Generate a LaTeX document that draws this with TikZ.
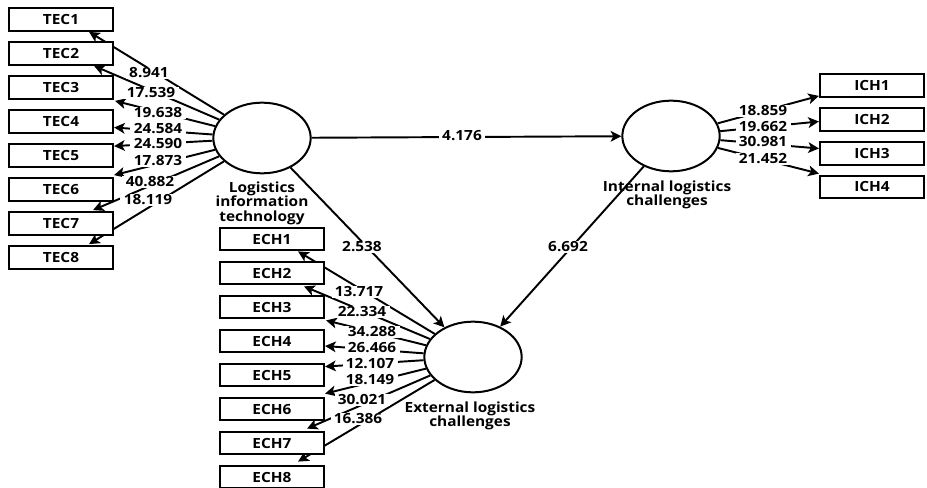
\documentclass[tikz,border=0pt]{standalone}
\usepackage{fontspec}
\setmainfont[FakeStretch=1.1]{Open Sans}
\usetikzlibrary{shapes.geometric,arrows.meta,calc}
\pgfdeclarelayer{bg}
\pgfsetlayers{bg,main}
\begin{document}
\begin{tikzpicture}[x=0.75pt,y=-0.75pt,
  font=\fontsize{10.5}{10.9}\selectfont\bfseries,
  ind/.style={draw, fill=white, line width=1.6pt, minimum width=78pt, minimum height=17pt, inner sep=0pt},
  lat/.style={draw, fill=white, ellipse, line width=1.5pt, minimum width=73pt, minimum height=53pt, inner sep=0pt},
  conn/.style={line width=1.45pt, -{Stealth[length=8pt,width=8pt,inset=2pt]}},
  lab/.style={fill=white, inner xsep=2.5pt, inner ysep=0.5pt}]
\useasboundingbox (0,0) rectangle (927,488);
% indicator boxes
\foreach \i/\y in {1/19.5,2/53.5,3/87.5,4/121.5,5/155.5,6/189.5,7/223.5,8/257.5}
  \node[ind] (tec\i) at (61,\y) {TEC\i};
\foreach \i/\y in {1/239,2/273,3/307,4/341,5/375,6/409,7/443,8/477}
  \node[ind] (ech\i) at (272,\y) {ECH\i};
\foreach \i/\y in {1/85.5,2/119.5,3/153.5,4/187}
  \node[ind] (ich\i) at (872,\y) {ICH\i};
% latent variables
\node[lat] (lit) at (262,138) {};
\node[lat] (int) at (671,136) {};
\node[lat] (ext) at (473,357) {};
\node[align=center] (litl) at (262,203) {Logistics\\information\\technology};
\node[align=center] (intl) at (667,195) {Internal logistics\\challenges};
\node[align=center] (extl) at (470,416) {External logistics\\challenges};
% connectors
\begin{pgfonlayer}{bg}
\draw[conn] (lit) -- ($(tec1.south east)+(-25,0)$);
\draw[conn] (lit) -- ($(tec2.south east)+(-20,0)$);
\draw[conn] (lit) -- ($(tec3.south east)+(1,1)$);
\draw[conn] (lit) -- ($(tec4.east)+(0,6)$);
\draw[conn] (lit) -- ($(tec5.north east)+(0,3)$);
\draw[conn] (lit) -- ($(tec6.north east)+(0,-2)$);
\draw[conn] (lit) -- ($(tec7.north east)+(-21,-1)$);
\draw[conn] (lit) -- ($(tec8.north east)+(-25,-1)$);
\draw[conn] (ext) -- ($(ech1.south east)+(-27,0)$);
\draw[conn] (ext) -- ($(ech2.south east)+(-21,1)$);
\draw[conn] (ext) -- ($(ech3.south east)+(1,1)$);
\draw[conn] (ext) -- ($(ech4.east)+(0,5)$);
\draw[conn] (ext) -- ($(ech5.north east)+(0,4)$);
\draw[conn] (ext) -- ($(ech6.north east)+(0,-3)$);
\draw[conn] (ext) -- ($(ech7.north east)+(-18,-2)$);
\draw[conn] (ext) -- ($(ech8.north east)+(-27,-3)$);
\draw[conn] (int) -- ($(ich1.south west)+(0,-2)$);
\draw[conn] (int) -- ($(ich2.west)+(0,2)$);
\draw[conn] (int) -- ($(ich3.west)+(0,-5)$);
\draw[conn] (int) -- ($(ich4.north west)+(0,-1)$);
\draw[conn] (lit) -- (int);
\draw[conn] (lit) -- (ext);
\draw[conn] (int) -- (ext);
\end{pgfonlayer}
% labels
\node[lab] (t1) at (149,73) {8.941};
\node[lab] (t2) at (151,93) {17.539};
\node[lab] (t3) at (158,113) {19.638};
\node[lab] (t4) at (158,129) {24.584};
\node[lab] (t5) at (158,144) {24.590};
\node[lab] (t6) at (158,161) {17.873};
\node[lab] (t7) at (150,182) {40.882};
\node[lab] (t8) at (148,200) {18.119};
\node[lab] (e1) at (359,292) {13.717};
\node[lab] (e2) at (362,312) {22.334};
\node[lab] (e3) at (372,332) {34.288};
\node[lab] (e4) at (372,348) {26.466};
\node[lab] (e5) at (370,364) {12.107};
\node[lab] (e6) at (370,380) {18.149};
\node[lab] (e7) at (362,400) {30.021};
\node[lab] (e8) at (358,419) {16.386};
\node[lab] (i1) at (763,111) {18.859};
\node[lab] (i2) at (763,127) {19.662};
\node[lab] (i3) at (763,142) {30.981};
\node[lab] (i4) at (763,159) {21.452};
\node[lab] (p1) at (462,136) {4.176};
\node[lab] (p2) at (362,247) {2.538};
\node[lab] (p3) at (568,247) {6.692};
\end{tikzpicture}
\end{document}
